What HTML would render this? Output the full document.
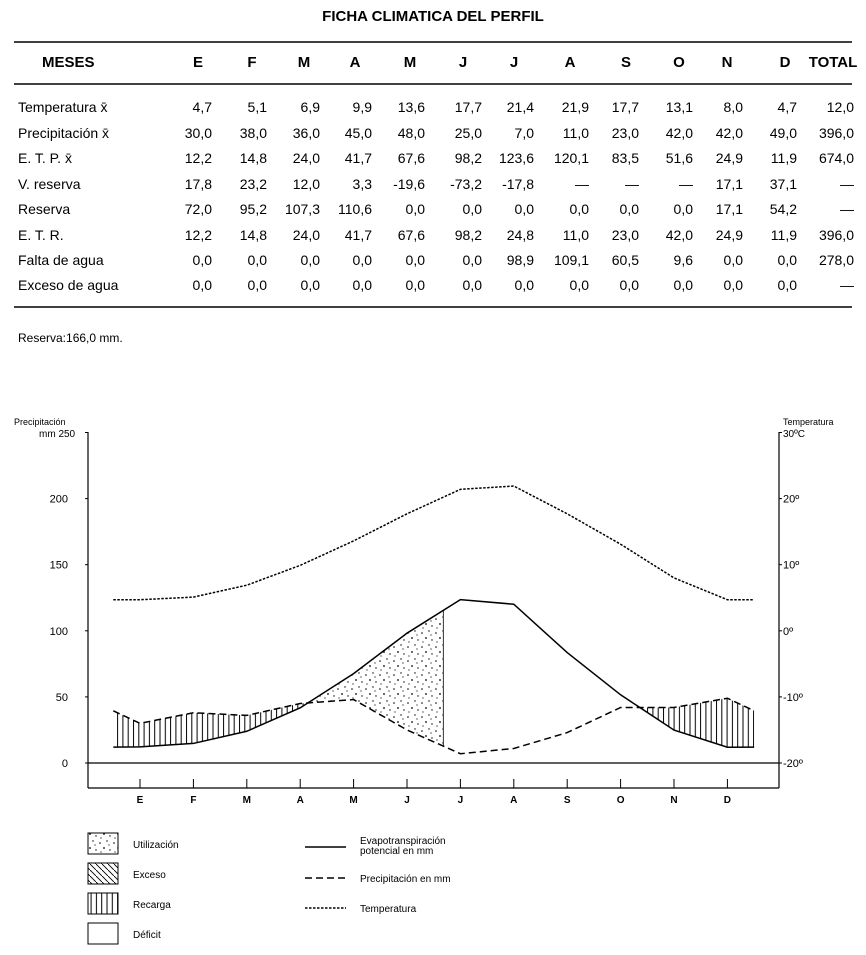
<!DOCTYPE html>
<html><head><meta charset="utf-8"><style>
html,body{margin:0;padding:0;background:#fff;}
svg{display:block;font-family:"Liberation Sans",Arial,sans-serif;}
</style></head><body>
<svg id="s" width="866" height="955" viewBox="0 0 866 955">
<defs>
<pattern id="vhatch" width="5.3" height="10" patternUnits="userSpaceOnUse"><line x1="1" y1="0" x2="1" y2="10" stroke="#000" stroke-width="1"/></pattern>
<pattern id="dhatch" width="6" height="6" patternUnits="userSpaceOnUse"><line x1="0" y1="0" x2="6" y2="6" stroke="#000" stroke-width="0.9"/></pattern>
<pattern id="dots" width="14" height="14" patternUnits="userSpaceOnUse"><circle cx="2" cy="3" r="0.8"/><circle cx="9" cy="1" r="0.7"/><circle cx="6" cy="8" r="0.9"/><circle cx="12" cy="10" r="0.7"/><circle cx="3" cy="12" r="0.6"/><circle cx="11" cy="5" r="0.6"/></pattern>
</defs>
<text x="433" y="21" text-anchor="middle" font-size="15" font-weight="bold">FICHA CLIMATICA DEL PERFIL</text>
<line x1="14" y1="42" x2="852" y2="42" stroke="#000" stroke-width="1.5"/>
<line x1="14" y1="84" x2="852" y2="84" stroke="#000" stroke-width="1.5"/>
<line x1="14" y1="307" x2="852" y2="307" stroke="#000" stroke-width="1.5"/>
<g id="table" font-size="14"></g>
<text x="18" y="342" font-size="12">Reserva:166,0 mm.</text>
<g id="chart"></g>
<g id="legend" font-size="10"></g>
</svg>
<script>
// ---- table data ----
const headers=["E","F","M","A","M","J","J","A","S","O","N","D","TOTAL"];
const rowLabels=["Temperatura x̄","Precipitación x̄","E. T. P. x̄","V. reserva","Reserva","E. T. R.","Falta de agua","Exceso de agua"];
const rowValues=[
["4,7","5,1","6,9","9,9","13,6","17,7","21,4","21,9","17,7","13,1","8,0","4,7","12,0"],
["30,0","38,0","36,0","45,0","48,0","25,0","7,0","11,0","23,0","42,0","42,0","49,0","396,0"],
["12,2","14,8","24,0","41,7","67,6","98,2","123,6","120,1","83,5","51,6","24,9","11,9","674,0"],
["17,8","23,2","12,0","3,3","-19,6","-73,2","-17,8","—","—","—","17,1","37,1","—"],
["72,0","95,2","107,3","110,6","0,0","0,0","0,0","0,0","0,0","0,0","17,1","54,2","—"],
["12,2","14,8","24,0","41,7","67,6","98,2","24,8","11,0","23,0","42,0","24,9","11,9","396,0"],
["0,0","0,0","0,0","0,0","0,0","0,0","98,9","109,1","60,5","9,6","0,0","0,0","278,0"],
["0,0","0,0","0,0","0,0","0,0","0,0","0,0","0,0","0,0","0,0","0,0","0,0","—"]];
// ---- chart data ----
const months=["E","F","M","A","M","J","J","A","S","O","N","D"];
const temperature=[4.7,5.1,6.9,9.9,13.6,17.7,21.4,21.9,17.7,13.1,8.0,4.7];
const precipitation=[30,38,36,45,48,25,7,11,23,42,42,49];
const etp=[12.2,14.8,24.0,41.7,67.6,98.2,123.6,120.1,83.5,51.6,24.9,11.9];
const leftTicks=[0,50,100,150,200,250];
const rightTicks=["-20º","-10º","0º","10º","20º","30ºC"];
const utilizationEnd=5.68;

const NS="http://www.w3.org/2000/svg";
function mk(tag,attrs,parent,txt){const e=document.createElementNS(NS,tag);for(const k in attrs)e.setAttribute(k,attrs[k]);if(txt!=null)e.textContent=txt;parent.appendChild(e);return e;}
const tbl=document.getElementById('table');
const colRight=[212,267,320,372,425,482,534,589,639,693,743,797,854];
const colHead=[198,252,304,355,410,463,514,570,626,679,727,785,833];
const rowY=[112,138,163,189,214,240,265,290];
headers.forEach((h,i)=>{
  const t=mk('text',{x:colHead[i],y:67,'text-anchor':'middle','font-weight':'bold','font-size':15},tbl,h);
  
  
});
const mh=mk('text',{x:42,y:67,'font-weight':'bold','font-size':15},tbl,"MESES");


rowLabels.forEach((l,r)=>{
  const t=mk('text',{x:18,y:rowY[r]},tbl,l);
  
  
  rowValues[r].forEach((v,c)=>{
    const u=mk('text',{x:colRight[c],y:rowY[r],'text-anchor':'end'},tbl,v);
    
    
  });
});
// ---- chart ----
const ch=document.getElementById('chart');
const X0=140,DX=53.4,LX=88,RX=779,Y0=763,KY=(763-432.5)/250;
const xs=i=>X0+i*DX, ys=v=>Y0-v*KY, yt=t=>ys((t+20)*5);
function ext(a){const e=(a[0]+a[11])/2;return [e].concat(a,[e]);}
const idx=[-0.5].concat(months.map((m,i)=>i),[11.5]);
const P=ext(precipitation),E=ext(etp),T=ext(temperature);
// axes
let a=mk('line',{x1:LX,y1:432,x2:LX,y2:788,stroke:'#000','stroke-width':1.2},ch);
a=mk('line',{x1:RX,y1:432,x2:RX,y2:788,stroke:'#000','stroke-width':1.2},ch);
a=mk('line',{x1:LX,y1:788,x2:RX,y2:788,stroke:'#000','stroke-width':1.2},ch);
a=mk('line',{x1:LX,y1:Y0,x2:RX,y2:Y0,stroke:'#000','stroke-width':1.2},ch);
leftTicks.forEach(v=>{
  const y=ys(v);
  mk('line',{x1:LX-3,y1:y,x2:LX,y2:y,stroke:'#000'},ch);
  if(v<250){const t=mk('text',{x:LX-20,y:y+4,'text-anchor':'end','font-size':11},ch,String(v));}
});
rightTicks.forEach((l,i)=>{
  const y=ys(i*50);
  mk('line',{x1:RX,y1:y,x2:RX+3,y2:y,stroke:'#000'},ch);
  if(i<5){const t=mk('text',{x:RX+4,y:y+4,'font-size':11},ch,l);}
});
let t=mk('text',{x:14,y:425,'font-size':9},ch,"Precipitación");
t=mk('text',{x:39,y:437,'font-size':10},ch,"mm 250");
t=mk('text',{x:783,y:425,'font-size':9},ch,"Temperatura");
t=mk('text',{x:783,y:437,'font-size':10},ch,"30ºC");
months.forEach((m,i)=>{
  mk('line',{x1:xs(i),y1:779,x2:xs(i),y2:788,stroke:'#000'},ch);
  const u=mk('text',{x:xs(i),y:803,'text-anchor':'middle','font-size':10,'font-weight':'bold'},ch,m);
  
  
});
// areas with crossings
const pts=[];
for(let k=0;k<idx.length;k++){
  pts.push({i:idx[k],p:P[k],e:E[k]});
  if(k<idx.length-1){const d1=P[k]-E[k],d2=P[k+1]-E[k+1];
    if(d1*d2<0){const f=d1/(d1-d2);pts.push({i:idx[k]+f*(idx[k+1]-idx[k]),p:P[k]+f*(P[k+1]-P[k]),e:E[k]+f*(E[k+1]-E[k])});}}
}
function area(up,lo){let s=pts.map(q=>xs(q.i)+','+ys(up(q))).join(' ');s+=' '+pts.slice().reverse().map(q=>xs(q.i)+','+ys(lo(q))).join(' ');return s;}
const rec=mk('polygon',{points:area(q=>q.p,q=>Math.min(q.p,q.e)),fill:'url(#vhatch)',stroke:'none'},ch);

mk('clipPath',{id:'uc'},ch);
mk('rect',{x:0,y:0,width:xs(utilizationEnd),height:955},document.getElementById('uc'));
const ut=mk('polygon',{points:area(q=>q.e,q=>Math.min(q.p,q.e)),fill:'url(#dots)',stroke:'none','clip-path':'url(#uc)'},ch);

// cutoff line
let ui=Math.floor(utilizationEnd),uf=utilizationEnd-ui;
const ue=etp[ui]+uf*(etp[ui+1]-etp[ui]),up=precipitation[ui]+uf*(precipitation[ui+1]-precipitation[ui]);
mk('line',{x1:xs(utilizationEnd),y1:ys(ue),x2:xs(utilizationEnd),y2:ys(up),stroke:'#000','stroke-width':0.8},ch);
function line(arr,dash,w,name){const l=mk('polyline',{points:idx.map((i,k)=>xs(i)+','+ys(arr[k])).join(' '),fill:'none',stroke:'#000','stroke-width':w,'stroke-dasharray':dash},ch);}
line(E,'none',1.5,'etp-line');
line(P,'7 4',1.5,'precipitation-line');
const Tv=T.map(v=>(v+20)*5);
line(Tv,'2.5 1.5',1.5,'temperature-line');
// legend
const lg=document.getElementById('legend');
const lb=[["Utilización","url(#dots)"],["Exceso","url(#dhatch)"],["Recarga","url(#vhatch)"],["Déficit","#fff"]];
lb.forEach((b,i)=>{
  const y=833+i*30;
  const r=mk('rect',{x:88,y:y,width:30,height:21,fill:b[1],stroke:'#000','stroke-width':1},lg);
  
  const u=mk('text',{x:133,y:y+15},lg,b[0]);
  
});
const ll=[["none",["Evapotranspiración","potencial en mm"],847],["7 4",["Precipitación en mm"],878],["2.5 1.5",["Temperatura"],908]];
ll.forEach(l=>{
  mk('line',{x1:305,y1:l[2],x2:346,y2:l[2],stroke:'#000','stroke-width':1.5,'stroke-dasharray':l[0]},lg);
  l[1].forEach((s,j)=>{const u=mk('text',{x:360,y:l[2]+4+(l[1].length>1?(j*10-7):0)},lg,s);});
});
</script>
</body></html>
